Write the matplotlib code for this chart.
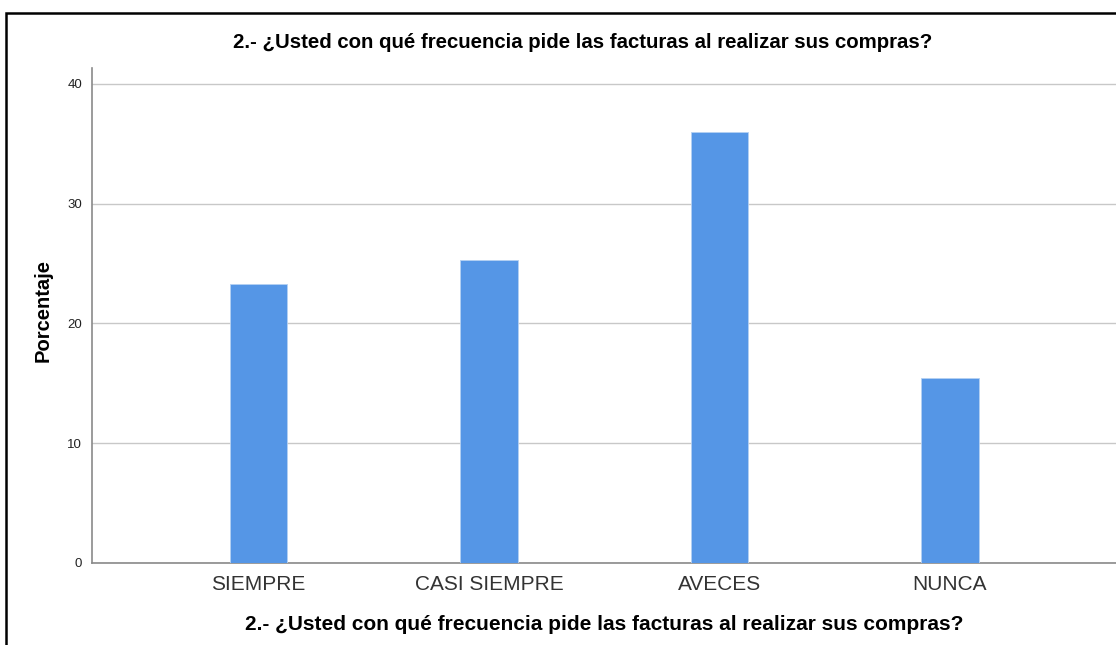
import matplotlib
matplotlib.use("Agg")
import matplotlib.pyplot as plt
from matplotlib.patches import Rectangle

# datos
categorias = ['SIEMPRE', 'CASI SIEMPRE', 'AVECES', 'NUNCA']
porcentaje = [23.3, 25.3, 36.0, 15.4]
y_ticks = [0, 10, 20, 30, 40]
titulo = '2.- ¿Usted con qué frecuencia pide las facturas al realizar sus compras?'

plt.rcParams['font.family'] = ['Liberation Sans', 'DejaVu Sans']

fig = plt.figure(figsize=(11.16, 6.45), dpi=100)
ax = fig.add_axes([92/1116, 82.3/645, 1 - 92/1116, 494.7/645])

x = list(range(len(categorias)))
ax.bar(x, porcentaje, width=0.249, color='#5596e6', edgecolor='#b4d0f2', linewidth=0.6, zorder=3)

ax.set_xlim(-0.7235, 3.721)
ax.set_ylim(0, 41.33)
ax.set_yticks(y_ticks)
ax.set_xticks(x)
ax.set_xticklabels(categorias, fontsize=15, color='#333333')
ax.tick_params(axis='y', labelsize=9.5, length=0, pad=7, colors='#222222')
ax.tick_params(axis='x', length=0, pad=9)
ax.grid(axis='y', color='#c8c8c8', linewidth=1, zorder=0)

for s in ['top', 'right']:
    ax.spines[s].set_visible(False)
ax.spines['left'].set_color('#8a8a8a')
ax.spines['bottom'].set_color('#8a8a8a')
ax.spines['left'].set_linewidth(1.2)
ax.spines['bottom'].set_linewidth(1.2)

# etiquetas
fig.text(43/1116, 1 - 311/645, 'Porcentaje', rotation=90, ha='center', va='center',
         fontsize=14.5, fontweight='bold')
fig.text(583/1116, 1 - 43/645, titulo, ha='center', va='center', fontsize=14.7, fontweight='bold')
fig.text(604/1116, 1 - 625/645, titulo, ha='center', va='center', fontsize=15, fontweight='bold')

# marco exterior
fig.patches.append(Rectangle((6/1116, -0.02), 1.05, 1 - 13/645 + 0.02, transform=fig.transFigure,
                             fill=False, edgecolor='black', linewidth=1.8))

fig.savefig('out.png', dpi=100)
